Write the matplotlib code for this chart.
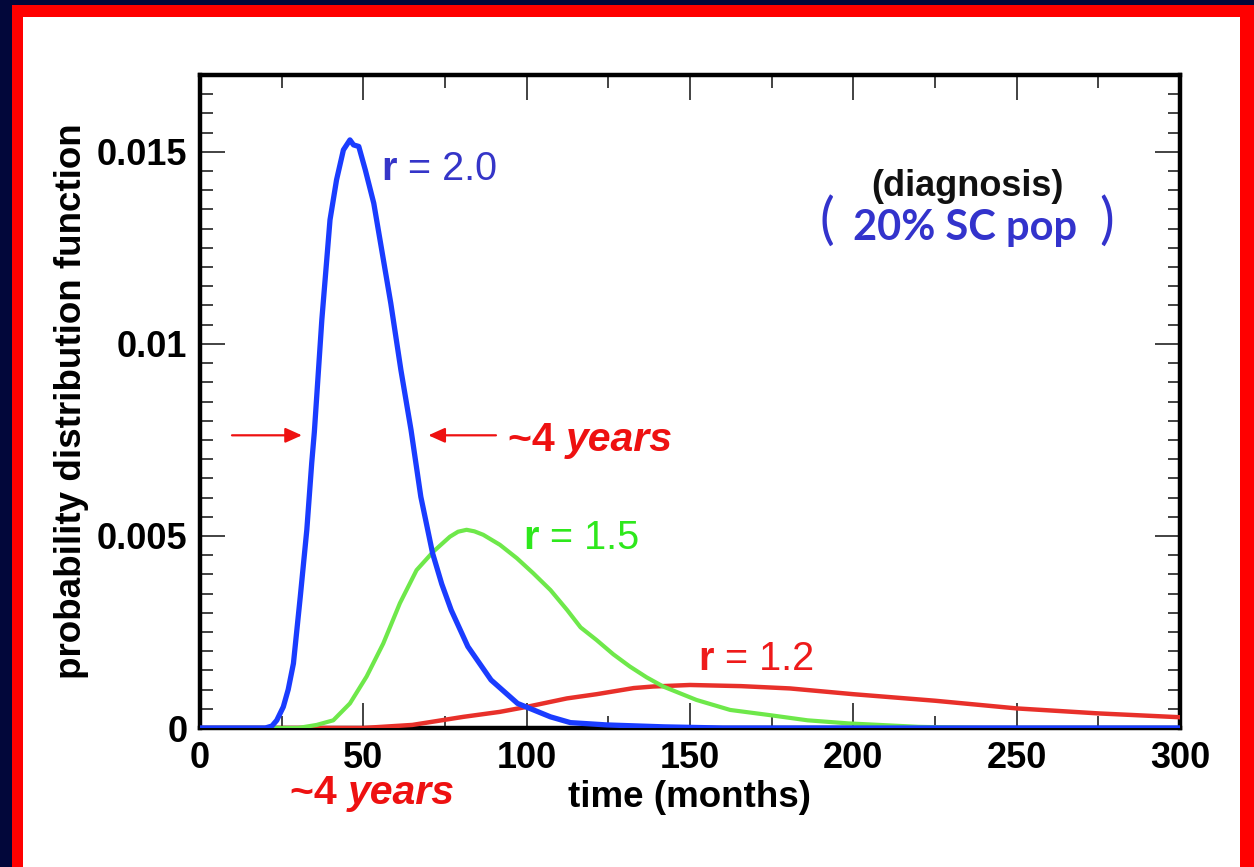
import numpy as np
import matplotlib
matplotlib.use("Agg")
import matplotlib.pyplot as plt
from matplotlib.patches import Rectangle
from matplotlib.ticker import MultipleLocator

plt.rcParams['font.family'] = ['Liberation Sans', 'DejaVu Sans']

# blue curve, r = 2.0 (months, pdf)
blue_t = [0, 20, 22, 23.5, 25.5, 27.0, 28.6, 30.7, 32.7, 34.2, 35.0, 37.3, 39.8, 41.8, 43.9,
          45.9, 47.0, 48.6, 50.6, 53.2, 55.8, 58.4, 61.5, 64.6, 67.6, 71.2, 74.0, 76.9, 82.0,
          89.1, 97.2, 107.3, 113.4, 124.5, 142, 160, 300]
blue_v = [0, 0, 0.00005, 0.0002, 0.00055, 0.0010, 0.00168, 0.00342, 0.00516, 0.0069, 0.0077,
          0.01063, 0.01323, 0.01427, 0.01505, 0.01531, 0.01518, 0.01514, 0.01453, 0.01366,
          0.01236, 0.01106, 0.00932, 0.00776, 0.00602, 0.00455, 0.00375, 0.00307, 0.00212,
          0.00125, 0.00064, 0.00029, 0.00014, 0.00008, 0.00003, 0, 0]

# green curve, r = 1.5
green_t = [0, 30, 35.7, 40.8, 45.9, 51.0, 56.1, 61.2, 66.3, 71.4, 76.5, 79.0, 81.6, 84.0,
           86.7, 91.8, 97.0, 102.0, 107.3, 112.4, 116.5, 121.4, 126.5, 131.6, 136.7, 141.8,
           152.0, 162.3, 174.0, 186.0, 198.5, 220, 240, 300]
green_v = [0, 0, 0.00008, 0.0002, 0.00064, 0.00134, 0.0022, 0.00325, 0.00411, 0.00459,
           0.00498, 0.00511, 0.00516, 0.00512, 0.00503, 0.00477, 0.00442, 0.00403, 0.00359,
           0.00307, 0.00262, 0.00229, 0.00192, 0.0016, 0.00132, 0.00108, 0.00073, 0.00047,
           0.00034, 0.0002, 0.00012, 0.00003, 0, 0]

# red curve, r = 1.2
red_t = [0, 50, 65, 80.6, 91.8, 100, 112.3, 121.4, 132.8, 138.7, 150, 165.6, 180.6, 200,
         225, 250, 275, 300]
red_v = [0, 0, 0.00008, 0.00029, 0.00042, 0.00055, 0.00077, 0.00088, 0.00104, 0.00108,
         0.00112, 0.00109, 0.00103, 0.00088, 0.00071, 0.00051, 0.00038, 0.00028]

x_ticks = [0, 50, 100, 150, 200, 250, 300]
y_ticks = [0, 0.005, 0.01, 0.015]
y_tick_labels = ['0', '0.005', '0.01', '0.015']

W, H = 1254, 867
fig = plt.figure(figsize=(W / 100, H / 100), dpi=100)
fig.patch.set_facecolor('#02073a')

# frame: navy outside, red band, white inside
fig.patches.append(Rectangle((12 / W, 0), 1 - 12 / W, 1 - 5 / H, transform=fig.transFigure,
                             facecolor='#ff0000', edgecolor='none', zorder=-10))
fig.patches.append(Rectangle((23 / W, 0), (1240 - 23) / W, 1 - 17 / H, transform=fig.transFigure,
                             facecolor='white', edgecolor='none', zorder=-9))

ax = fig.add_axes([200 / W, 1 - 728 / H, 980 / W, 653 / H])
ax.set_zorder(1)
ax.set_facecolor('none')

ax.plot(red_t, red_v, color='#e8302a', lw=3.2, zorder=3)
ax.plot(green_t, green_v, color='#6ee84a', lw=3.0, zorder=4)
ax.plot(blue_t, blue_v, color='#1a3cff', lw=3.8, zorder=5)

ax.set_xlim(0, 300)
ax.set_ylim(0, 0.017)
ax.set_xticks(x_ticks)
ax.set_yticks(y_ticks)
ax.set_yticklabels(y_tick_labels)
ax.xaxis.set_minor_locator(MultipleLocator(25))
ax.yaxis.set_minor_locator(MultipleLocator(0.0005))
ax.tick_params(which='both', direction='in', top=True, right=True, width=1.2, color='#222222')
ax.tick_params(which='major', length=18, labelsize=26, pad=9)
ax.tick_params(which='minor', length=9)
for lab in ax.get_xticklabels() + ax.get_yticklabels():
    lab.set_fontweight('bold')
for sp in ax.spines.values():
    sp.set_linewidth(3.2)

ax.set_xlabel('time (months)', fontsize=26.5, fontweight='bold')
ax.set_ylabel('probability distribution function', fontsize=26.5, fontweight='bold')
ax.xaxis.set_label_coords(0.5, -0.08)
ax.yaxis.set_label_coords(-0.113, 0.5)


def two_part(x, y, first, second, color, size, style2='normal', weight2='normal'):
    t = ax.text(x, y, first, color=color, fontsize=size, fontweight='bold',
                va='center', ha='left', clip_on=False)
    ax.annotate(second, xy=(1, 0), xycoords=t, color=color, fontsize=size,
                fontweight=weight2, style=style2, va='bottom', ha='left',
                annotation_clip=False)


two_part(55.6, 0.01455, 'r', ' = 2.0', '#3535c8', 28.5)
two_part(98.9, 0.00495, 'r', ' = 1.5', '#2ee81c', 28.5)
two_part(152.6, 0.0018, 'r', ' = 1.2', '#ee1a1a', 28.5)

two_part(94.3, 0.00750, '~4 ', 'years', '#ee1111', 29.5, style2='italic', weight2='bold')
two_part(27.5, -0.00168, '~4 ', 'years', '#ee1111', 29.5, style2='italic', weight2='bold')

# arrows marking the width of the blue peak
ax.annotate('', xy=(31.2, 0.00762), xytext=(9.8, 0.00762),
            arrowprops=dict(arrowstyle='-|>,head_length=1.0,head_width=0.45',
                            color='#ee1111', lw=1.6, shrinkA=0, shrinkB=0))
ax.annotate('', xy=(69.9, 0.00762), xytext=(90.6, 0.00762),
            arrowprops=dict(arrowstyle='-|>,head_length=1.0,head_width=0.45',
                            color='#ee1111', lw=1.6, shrinkA=0, shrinkB=0))

ax.text(235, 0.01411, '(diagnosis)', fontsize=26, fontweight='bold', color='#111111',
        ha='center', va='center')
ax.text(234.3, 0.01302, '20% SC pop', fontsize=30, fontweight='bold', color='#3333cc',
        ha='center', va='center', family=['Lato', 'DejaVu Sans'])
ax.text(191.9, 0.01318, '(', fontsize=40, color='#3333cc', ha='center', va='center',
        family=['Lato', 'DejaVu Sans'])
ax.text(277.5, 0.01318, ')', fontsize=40, color='#3333cc', ha='center', va='center',
        family=['Lato', 'DejaVu Sans'])

fig.savefig('out.png', dpi=100, facecolor=fig.get_facecolor())
